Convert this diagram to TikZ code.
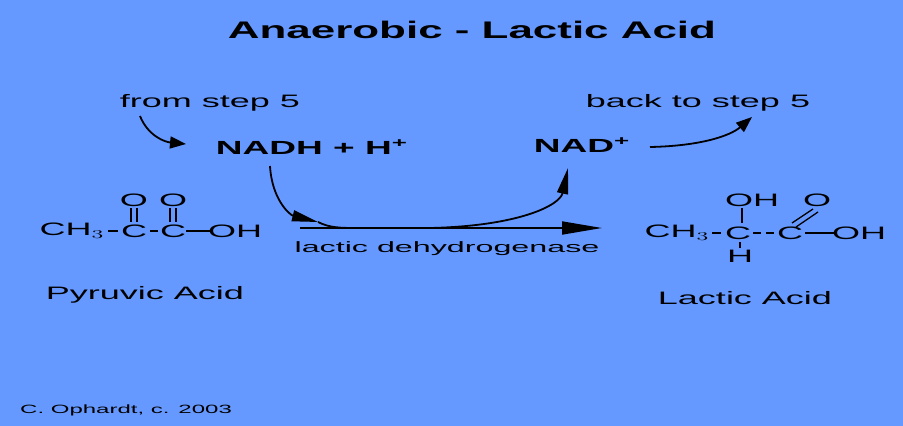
\documentclass[tikz,border=0pt]{standalone}
\usepackage{fontspec}
\setmainfont{Liberation Sans}
\usetikzlibrary{arrows.meta}
\definecolor{bg}{HTML}{6699FF}
\newcommand{\Wd}[1]{\scalebox{2}[1]{#1}}
\begin{document}
\begin{tikzpicture}[x=1pt,y=-1pt,
  txt/.style={inner sep=0pt,font=\fontsize{18}{20}\selectfont},
  chem/.style={inner sep=0pt,font=\fontsize{18}{20}\selectfont},
  bond/.style={line width=1.3pt},
  arr/.style={line width=1.8pt,-{Triangle[length=16pt,width=12pt]}}]
\fill[bg] (0,0) rectangle (903,426);
\useasboundingbox (0,0) rectangle (903,426);
\node[inner sep=0pt,font=\bfseries\fontsize{24}{26}\selectfont] (title) at (472,30) {\scalebox{1.83}[1]{Anaerobic - Lactic Acid}};
\node[txt] (from) at (210,103) {\Wd{from step 5}};
\node[txt] (back) at (698,103) {\Wd{back to step 5}};
\node[inner sep=0pt,font=\bfseries\fontsize{19}{21}\selectfont] (nadh) at (312,147) {\scalebox{1.95}[1]{NADH + H\textsuperscript{+}}};
\node[inner sep=0pt,font=\bfseries\fontsize{19}{21}\selectfont] (nad) at (582,145) {\scalebox{1.95}[1]{NAD\textsuperscript{+}}};
\coordinate (f0) at (140,116);
\coordinate (f1) at (186,144);
\draw[arr] (f0) .. controls (148,136) and (165,142) .. (f1);
\coordinate (b0) at (650,147);
\coordinate (b1) at (752,117);
\draw[arr] (b0) .. controls (700,146) and (730,136) .. (b1);
% main reaction arrow
\coordinate (m0) at (300,228);
\coordinate (m1) at (602,228);
\draw[arr,-{Triangle[length=40pt,width=13pt]}] (m0) -- (m1);
\coordinate (n0) at (270,166);
\coordinate (n1) at (318,222);
\draw[arr,-{Triangle[length=26pt,width=11pt]}] (n0) .. controls (272,200) and (290,215) .. (n1);
\draw[line width=1.8pt] (n1) .. controls (330,228) and (340,228) .. (360,228);
\coordinate (u0) at (430,228);
\coordinate (u1) at (568,168);
\draw[arr,-{Triangle[length=26pt,width=11pt]}] (u0) .. controls (520,226) and (560,205) .. (u1);
\node[inner sep=0pt,font=\fontsize{15}{17}\selectfont] (enz) at (447,249) {\scalebox{2.15}[1]{lactic dehydrogenase}};
% pyruvic acid
\node[chem] (pch) at (72,231) {\Wd{CH$_3$}};
\node[chem] (pc1) at (134,231) {\Wd{C}};
\node[chem] (pc2) at (173,231) {\Wd{C}};
\node[chem] (poh) at (235,231) {\Wd{OH}};
\node[chem] (po1) at (134,200) {\Wd{O}};
\node[chem] (po2) at (173,200) {\Wd{O}};
\draw[bond] (108,231) -- (118,231);
\draw[bond] (150,231) -- (158,231);
\draw[bond] (186,231) -- (210,231);
\foreach \x in {134,173}{
  \draw[bond] (\x-3,208) -- (\x-3,222);
  \draw[bond] (\x+3,208) -- (\x+3,222);
}
\node[txt] (pyr) at (145,295) {\Wd{Pyruvic Acid}};
% lactic acid
\node[chem] (lch) at (677,233) {\Wd{CH$_3$}};
\node[chem] (lc1) at (738,233) {\Wd{C}};
\node[chem] (lc2) at (790,233) {\Wd{C}};
\node[chem] (loh) at (859,233) {\Wd{OH}};
\node[chem] (lot) at (752,200) {\Wd{OH}};
\node[chem] (lh) at (740,256) {\Wd{H}};
\node[chem] (lo) at (817,200) {\Wd{O}};
\draw[bond] (712,233) -- (721,233);
\draw[bond] (753,233) -- (761,233);
\draw[bond] (766,233) -- (774,233);
\draw[bond] (805,233) -- (835,233);
\draw[bond] (742,208) -- (742,223);
\draw[bond] (740,242) -- (740,248);
\draw[bond] (792,223) -- (813,209);
\draw[bond] (796,227) -- (818,212);
\node[txt] (lac) at (745,298) {\Wd{Lactic Acid}};
\node[inner sep=0pt,font=\fontsize{12}{14}\selectfont,anchor=west] (cred) at (20,410) {\Wd{C. Ophardt, c. 2003}};
\end{tikzpicture}
\end{document}
